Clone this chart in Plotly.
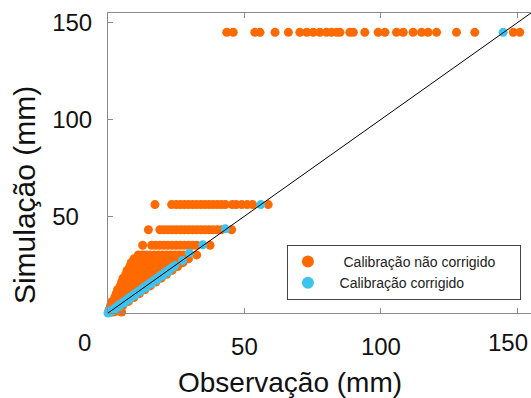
import plotly.graph_objects as go

# ---------------- data ----------------
# Orange: "Calibração não corrigido" -- rows of equal simulated value (mm)
row_sim = [145, 56, 43, 35, 30, 28, 26, 24, 22, 20, 18, 16, 14, 12, 10, 8, 6, 4, 2, 1, 0.5]
row_obs = [
    [43.5, 45.9, 53.8, 55.7, 61.2, 66.1, 70.3, 72.8, 75.2, 77.6, 80.1, 81.9, 83.8, 85.0,
     88.6, 89.9, 94.1, 99.0, 101.5, 105.7, 108.2, 111.8, 114.9, 117.3, 120.4, 127.7,
     134.4, 148.5, 150.9],
    [17.2, 23.3, 25.0, 26.5, 28.0, 29.5, 31.0, 32.5, 34.0, 35.5, 37.0, 38.5, 40.0, 41.5,
     43.0, 45.5, 47.0, 49.0, 51.0, 53.0, 58.7],
    [14.8, 19.0, 20.5, 22.0, 23.5, 25.0, 26.5, 28.0, 29.5, 31.0, 32.5, 34.0, 35.5, 37.0,
     38.5, 40.0, 41.5, 45.3],
    [12.7, 16.0, 17.5, 19.0, 20.5, 22.0, 23.5, 25.0, 26.5, 28.0, 29.5, 31.0, 32.5, 37.4],
    [11.1, 12.5, 14.0, 15.5, 17.0, 18.5, 20.0, 21.5, 23.0, 24.5, 26.0, 27.5, 29.0, 32.5],
    [9.5, 11.0, 12.5, 14.0, 15.5, 17.0, 18.5, 20.0, 21.5, 23.0, 24.5, 26.0, 27.0, 29.5],
    [8.5, 10.0, 11.5, 13.0, 14.5, 16.0, 17.5, 19.0, 20.5, 22.0, 23.5, 25.0, 27.5],
    [8.0, 9.5, 11.0, 12.5, 14.0, 15.5, 17.0, 18.5, 20.0, 21.5, 23.0, 25.5],
    [7.0, 8.5, 10.0, 11.5, 13.0, 14.5, 16.0, 17.5, 19.0, 20.5, 23.5],
    [6.5, 8.0, 9.5, 11.0, 12.5, 14.0, 15.5, 17.0, 18.5, 21.5],
    [5.5, 7.0, 8.5, 10.0, 11.5, 13.0, 14.5, 16.0, 17.0, 19.5],
    [5.0, 6.5, 8.0, 9.5, 11.0, 12.5, 14.0, 15.0, 17.5],
    [4.5, 6.0, 7.5, 9.0, 10.5, 12.0, 13.0, 15.5],
    [3.5, 5.0, 6.5, 8.0, 9.5, 11.0, 13.5],
    [3.0, 4.5, 6.0, 7.5, 9.0, 11.5],
    [2.5, 4.0, 5.5, 7.0, 9.5],
    [1.5, 3.0, 4.5, 5.5, 7.5],
    [1.0, 2.0, 3.0, 5.5],
    [0.5, 1.5, 3.5, 4.5],
    [2.5, 3.5],
    [1.0, 2.0, 5.0],
]

# Blue: "Calibração corrigido"
blue_obs = [0.0, 0.6, 0.2, 1.5, 2.5, 3.5, 4.5, 5.5, 6.5, 7.5, 8.5, 9.5, 10.5, 11.5, 12.5,
            13.5, 14.5, 15.5, 16.5, 17.5, 18.5, 19.5, 20.5, 21.5, 22.5, 23.5, 24.5,
            2.0, 4.0, 6.0, 8.0, 10.0, 12.0, 14.0, 16.0, 18.0, 20.0, 22.0,
            27.3, 29.8, 34.7, 43.0, 56.0, 144.8]
blue_sim = [0.0, 0.3, 0.8, 1.5, 2.5, 3.5, 4.5, 5.5, 6.5, 7.5, 8.5, 9.5, 10.5, 11.5, 12.5,
            13.5, 14.5, 15.5, 16.5, 17.5, 18.5, 19.5, 20.5, 21.5, 22.5, 23.5, 24.5,
            1.2, 3.2, 5.2, 7.2, 9.2, 11.2, 13.2, 15.2, 17.2, 19.2, 21.2,
            27.1, 30.9, 35.2, 43.5, 56.0, 145.0]

line_x = [0, 160]
line_y = [0, 160]

x_ticks = [0, 50, 100, 150]
y_ticks = [50, 100, 150]

ORANGE = "#ff6a00"
BLUE = "#3ec3ef"
FONT = "Liberation Sans, Arial, sans-serif"

orange_x, orange_y = [], []
for s, obs in zip(row_sim, row_obs):
    for o in obs:
        orange_x.append(o)
        orange_y.append(s)

fig = go.Figure()
fig.add_trace(go.Scatter(
    x=orange_x, y=orange_y, mode="markers",
    name="\u00a0\u00a0\u00a0\u00a0Calibração não corrigido\u00a0\u00a0\u00a0\u00a0\u00a0",
    marker=dict(color=ORANGE, size=9, line=dict(width=0)),
    cliponaxis=False,
))
fig.add_trace(go.Scatter(
    x=blue_obs, y=blue_sim, mode="markers",
    name="\u00a0\u00a0\u00a0Calibração corrigido",
    marker=dict(color=BLUE, size=9, line=dict(width=0)),
    cliponaxis=False,
))
fig.add_trace(go.Scatter(
    x=line_x, y=line_y, mode="lines", showlegend=False,
    line=dict(color="black", width=1),
))

axis_common = dict(
    showgrid=False, zeroline=False, showline=True, linecolor="#8a8a8a", linewidth=1,
    ticks="inside", ticklen=5, tickcolor="#8a8a8a", tickwidth=1,
    tickfont=dict(family=FONT, size=24, color="#111"),
)
fig.update_xaxes(
    range=[0, 155], tickvals=x_ticks, ticktext=["", "50", "100", ""],
    mirror="ticks", ticklabelstandoff=12, **axis_common,
)
fig.update_yaxes(
    range=[0, 155], tickvals=y_ticks, ticktext=["50\u2007", "100", "150"],
    mirror=False, ticklabelstandoff=10, **axis_common,
)

tick_font = dict(family=FONT, size=24, color="#111")
fig.update_layout(
    width=531, height=398,
    margin=dict(l=108, r=0, t=13, b=85),
    paper_bgcolor="white", plot_bgcolor="white",
    font=dict(family=FONT, color="#111"),
    legend=dict(
        x=0.423, y=0.227, xanchor="left", yanchor="top",
        bgcolor="white", bordercolor="#444", borderwidth=1,
        font=dict(family=FONT, size=14, color="#222"),
        tracegroupgap=0, itemsizing="constant",
    ),
    annotations=[
        dict(text="0", xref="paper", yref="paper", x=-0.0556, y=-0.097,
             xanchor="center", yanchor="middle", showarrow=False, font=tick_font),
        dict(text="150", xref="paper", yref="paper", x=0.945, y=-0.097,
             xanchor="center", yanchor="middle", showarrow=False, font=tick_font),
        dict(text="Observação (mm)", xref="paper", yref="paper", x=0.43, y=-0.23,
             xanchor="center", yanchor="middle", showarrow=False,
             font=dict(family=FONT, size=28, color="#111")),
        dict(text="Simulação (mm)", xref="paper", yref="paper", x=-0.1986, y=0.393,
             xanchor="center", yanchor="middle", showarrow=False, textangle=-90,
             font=dict(family=FONT, size=30, color="#111")),
    ],
)

fig.write_html("out.html")
